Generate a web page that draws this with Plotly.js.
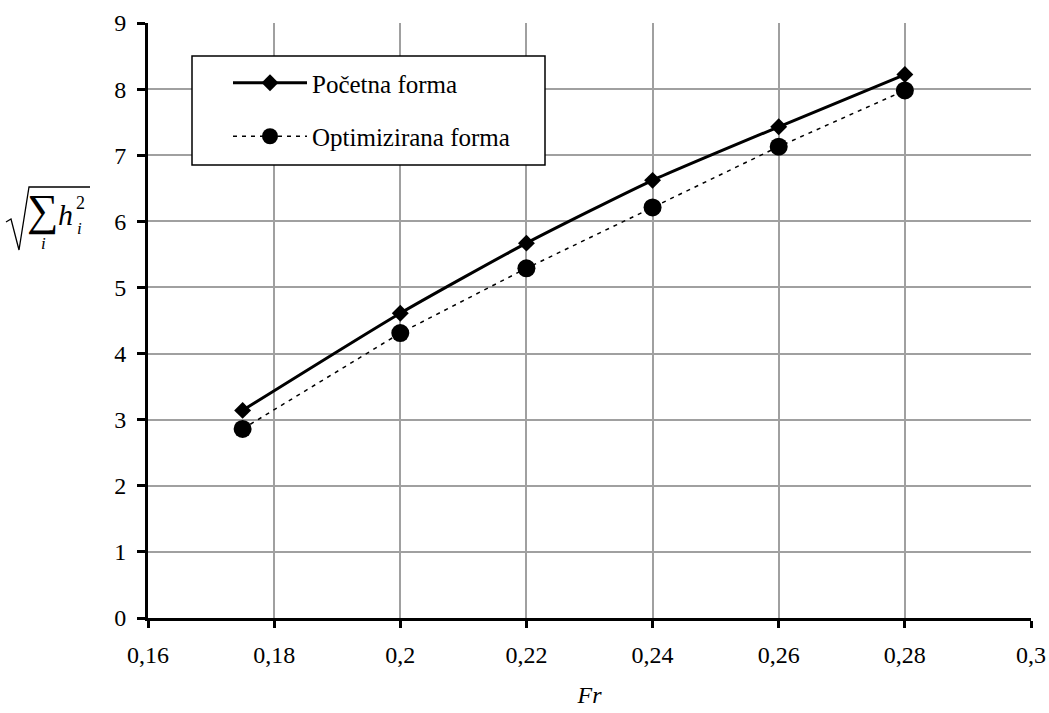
<!DOCTYPE html>
<html>
<head>
<meta charset="utf-8">
<script src="https://cdn.plot.ly/plotly-3.0.1.min.js"></script>
<style>html,body{margin:0;padding:0;background:#fff;}#chart{width:1049px;height:713px;}</style>
</head>
<body>
<div id="chart"></div>
<script>
const fr = [0.175, 0.2, 0.22, 0.24, 0.26, 0.28];
const pocetna = [3.14, 4.61, 5.67, 6.62, 7.43, 8.22];
const optimizirana = [2.86, 4.31, 5.29, 6.21, 7.13, 7.98];
const xTickVals = [0.16, 0.18, 0.2, 0.22, 0.24, 0.26, 0.28, 0.3];
const xTickText = ['0,16', '0,18', '0,2', '0,22', '0,24', '0,26', '0,28', '0,3'];
const yTickVals = [0, 1, 2, 3, 4, 5, 6, 7, 8, 9];
const seriesNames = ['Početna forma', 'Optimizirana forma'];

const serif = '"Liberation Serif", "Times New Roman", serif';

const traces = [
  {
    x: fr, y: pocetna, name: seriesNames[0], type: 'scatter', mode: 'lines+markers',
    line: {color: '#000', width: 3, shape: 'spline', smoothing: 0.6},
    marker: {symbol: 'diamond', size: 13, color: '#000'},
    legendgroup: 'a'
  },
  {
    x: fr, y: optimizirana, name: seriesNames[1], type: 'scatter', mode: 'lines+markers',
    line: {color: '#000', width: 1.5, dash: '4px,5px'},
    marker: {symbol: 'circle', size: 18, color: '#000'},
    legendgroup: 'b'
  }
];

function px(x) { return (x - 148) / 883; }
function py(y) { return (618 - y) / 595; }

const layout = {
  width: 1049, height: 713,
  margin: {l: 148, r: 18, t: 23, b: 95},
  paper_bgcolor: '#fff', plot_bgcolor: '#fff',
  font: {family: serif, size: 24, color: '#000'},
  showlegend: true,
  legend: {
    x: px(228), y: py(60), xanchor: 'left', yanchor: 'top',
    bgcolor: 'rgba(0,0,0,0)', borderwidth: 0,
    font: {family: serif, size: 25, color: '#000'},
    tracegroupgap: 18, itemwidth: 74
  },
  xaxis: {
    range: [0.16, 0.3], tickmode: 'array', tickvals: xTickVals, ticktext: xTickText,
    showline: true, linecolor: '#000', linewidth: 3,
    ticks: 'outside', ticklen: 7, tickwidth: 3, tickcolor: '#000',
    ticklabelstandoff: 6,
    showgrid: true, gridcolor: '#a0a0a0', gridwidth: 2, zeroline: false,
    tickfont: {family: serif, size: 24},
    title: {text: '<i>Fr</i>', font: {family: serif, size: 24}, standoff: 20}
  },
  yaxis: {
    range: [0, 9], tickmode: 'array', tickvals: yTickVals,
    showline: true, linecolor: '#000', linewidth: 3,
    ticks: 'outside', ticklen: 8, tickwidth: 3, tickcolor: '#000',
    ticklabelstandoff: 6,
    showgrid: true, gridcolor: '#a0a0a0', gridwidth: 2, zeroline: false,
    tickfont: {family: serif, size: 24}
  },
  annotations: [
    {xref: 'paper', yref: 'paper', x: px(42), y: py(210), xanchor: 'center', yanchor: 'middle',
     text: '∑', showarrow: false, font: {family: serif, size: 44}},
    {xref: 'paper', yref: 'paper', x: px(43), y: py(243), xanchor: 'center', yanchor: 'middle',
     text: '<i>i</i>', showarrow: false, font: {family: serif, size: 17}},
    {xref: 'paper', yref: 'paper', x: px(65), y: py(215), xanchor: 'center', yanchor: 'middle',
     text: '<i>h</i>', showarrow: false, font: {family: serif, size: 30}},
    {xref: 'paper', yref: 'paper', x: px(80), y: py(203), xanchor: 'center', yanchor: 'middle',
     text: '2', showarrow: false, font: {family: serif, size: 18}},
    {xref: 'paper', yref: 'paper', x: px(79), y: py(228), xanchor: 'center', yanchor: 'middle',
     text: '<i>i</i>', showarrow: false, font: {family: serif, size: 17}}
  ],
  shapes: [
    {type: 'rect', xref: 'paper', yref: 'paper', x0: px(192), x1: px(545), y0: py(165), y1: py(56),
     fillcolor: '#fff', line: {color: '#000', width: 1.5}, layer: 'above'},
    {type: 'path', xref: 'paper', yref: 'paper',
     path: 'M ' + px(6) + ' ' + py(222) + ' L ' + px(11) + ' ' + py(219) +
           ' L ' + px(19) + ' ' + py(250) + ' L ' + px(29) + ' ' + py(187) +
           ' L ' + px(90) + ' ' + py(187),
     line: {color: '#000', width: 1.3}}
  ]
};

Plotly.newPlot('chart', traces, layout, {displayModeBar: false, staticPlot: true});
</script>
</body>
</html>
